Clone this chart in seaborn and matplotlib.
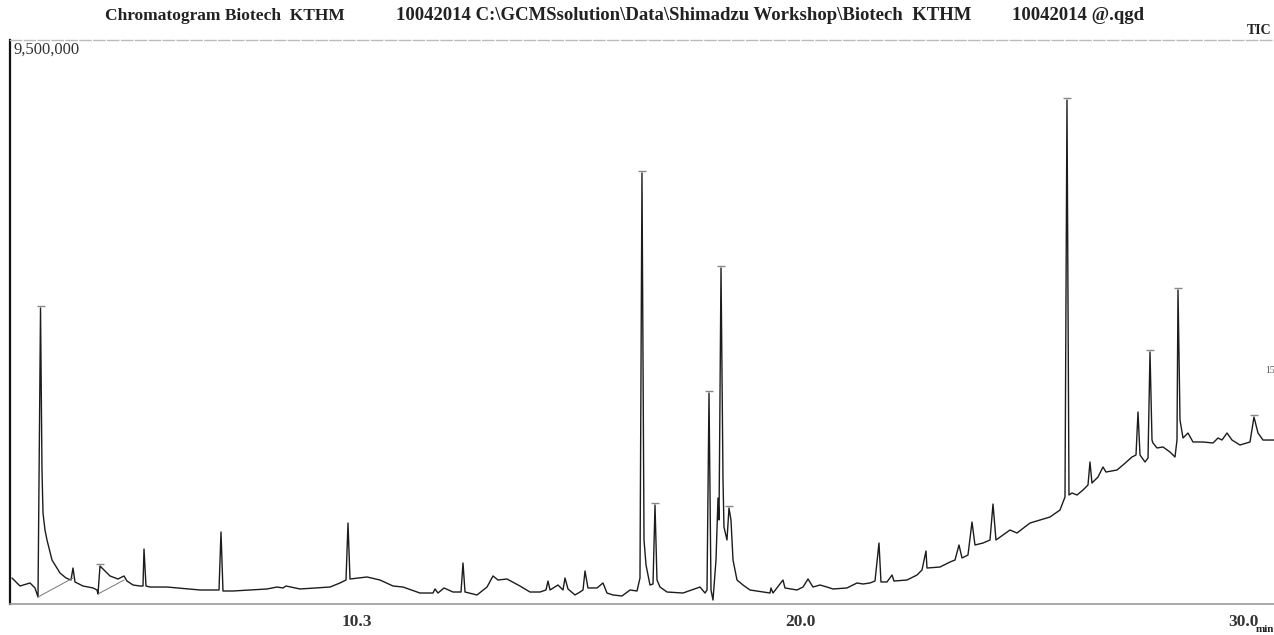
# ============================================================
# GC-MS TIC chromatogram - Biotech KTHM 10042014
# ============================================================

# ----------------------------
# 1. IMPORT LIBRARIES
# ----------------------------
import numpy as np
import pandas as pd
import seaborn as sns
import matplotlib
matplotlib.use("Agg")
import matplotlib.pyplot as plt
from matplotlib.ticker import MultipleLocator

# ----------------------------
# 2. DATA
# ----------------------------
# retention time (min)
ret_time = [
    2.212, 2.393, 2.619, 2.731, 2.799, 2.856, 2.889, 2.912, 2.957, 3.002,
    3.115, 3.296, 3.431, 3.544, 3.589, 3.634, 3.815, 4.041, 4.131, 4.153,
    4.199, 4.244, 4.334, 4.424, 4.605, 4.740, 4.808, 4.944, 5.102, 5.169,
    5.192, 5.237, 5.327, 5.711, 6.456, 6.885, 6.930, 6.975, 7.201, 7.968,
    8.194, 8.330, 8.397, 8.713, 9.391, 9.616, 9.752, 9.797, 9.842, 10.226,
    10.519, 10.813, 11.038, 11.422, 11.716, 11.761, 11.828, 11.964, 12.167, 12.348,
    12.393, 12.438, 12.709, 12.935, 13.070, 13.183, 13.386, 13.679, 13.905, 14.131,
    14.266, 14.312, 14.357, 14.537, 14.650, 14.695, 14.763, 14.921, 15.034, 15.102,
    15.147, 15.214, 15.418, 15.553, 15.643, 15.779, 15.982, 16.163, 16.321, 16.388,
    16.433, 16.479, 16.524, 16.614, 16.682, 16.727, 16.772, 16.840, 16.998, 17.359,
    17.743, 17.856, 17.901, 17.946, 17.991, 18.036, 18.104, 18.149, 18.172, 18.217,
    18.262, 18.284, 18.352, 18.397, 18.442, 18.488, 18.578, 18.713, 18.871, 19.323,
    19.345, 19.391, 19.616, 19.661, 19.932, 20.068, 20.181, 20.293, 20.451, 20.609,
    20.745, 21.061, 21.287, 21.422, 21.580, 21.693, 21.783, 21.828, 21.964, 22.077,
    22.122, 22.415, 22.641, 22.754, 22.844, 22.867, 23.160, 23.386, 23.499, 23.589,
    23.657, 23.792, 23.883, 23.950, 24.131, 24.289, 24.357, 24.424, 24.582, 24.740,
    24.898, 25.192, 25.418, 25.643, 25.869, 25.982, 26.027, 26.072, 26.140, 26.253,
    26.388, 26.501, 26.546, 26.591, 26.727, 26.840, 26.907, 27.156, 27.291, 27.494,
    27.585, 27.630, 27.675, 27.788, 27.856, 27.901, 27.946, 27.968, 28.059, 28.194,
    28.352, 28.465, 28.510, 28.533, 28.578, 28.646, 28.758, 28.871, 29.097, 29.323,
    29.436, 29.526, 29.639, 29.752, 29.932, 30.158, 30.248, 30.339, 30.451, 30.700,
]

# TIC intensity (x1000 counts)
tic_k = [
    438, 303, 354, 270, 118, 4986, 2257, 1533, 1246, 1078,
    741, 522, 438, 404, 606, 371, 303, 270, 236, 168,
    640, 606, 539, 472, 421, 472, 387, 320, 303, 303,
    926, 303, 286, 286, 236, 236, 1213, 219, 219, 253,
    286, 270, 303, 253, 286, 354, 404, 1364, 421, 455,
    404, 303, 286, 185, 185, 253, 185, 270, 202, 202,
    691, 202, 152, 286, 472, 404, 421, 303, 202, 202,
    236, 387, 236, 320, 236, 438, 253, 152, 202, 236,
    556, 270, 270, 354, 185, 152, 135, 236, 219, 438,
    7260, 1078, 657, 320, 337, 1668, 404, 286, 202, 185,
    286, 185, 236, 3554, 236, 67, 741, 1785, 1415, 5660,
    2089, 1297, 1078, 1617, 1415, 741, 404, 320, 236, 185,
    270, 185, 404, 270, 236, 286, 421, 286, 320, 286,
    253, 270, 354, 337, 354, 387, 1027, 371, 371, 488,
    387, 404, 488, 573, 893, 606, 623, 707, 741, 994,
    775, 825, 1381, 994, 1027, 1078, 1684, 1078, 1162, 1246,
    1196, 1364, 1415, 1465, 1583, 1802, 8489, 1836, 1870, 1836,
    1920, 2004, 2392, 2038, 2139, 2308, 2223, 2257, 2341, 2476,
    2510, 3234, 2510, 2392, 2459, 4245, 2762, 2712, 2628, 2645,
    2560, 2476, 2762, 5289, 3099, 2796, 2880, 2729, 2729, 2712,
    2796, 2762, 2880, 2762, 2678, 2729, 3150, 2880, 2762, 2762,
]

# integration baselines drawn by the software (start, end)
base_time = [[2.799, 3.589], [4.153, 4.740]]
base_tic_k = [[118, 438], [168, 404]]

# peaks carrying a label mark on the printout
peak_time = [2.856, 4.199, 16.433, 16.727, 17.946, 18.217, 18.397, 26.027, 27.901, 28.533, 30.248]
peak_tic_k = [4986, 640, 7260, 1668, 3554, 5660, 1617, 8489, 4245, 5289, 3150]

# peak number printed at the right edge
edge_label = "15"
edge_label_time = 30.62
edge_label_tic_k = 3940

x_ticks = [10, 20, 30]
x_tick_labels = ["10.3", "20.0", "30.0"]
y_max = 9500000

title_parts = ["Chromatogram Biotech  KTHM",
               "10042014 C:\\GCMSsolution\\Data\\Shimadzu Workshop\\Biotech  KTHM",
               "10042014 @.qgd"]

df = pd.DataFrame({"time": ret_time, "tic": np.array(tic_k) * 1000})

# ----------------------------
# 3. PLOT
# ----------------------------
sns.set_style("white")
plt.rcParams["font.family"] = ["Liberation Serif", "DejaVu Serif"]

fig = plt.figure(figsize=(12.74, 6.35), dpi=100)
ax = fig.add_axes([10 / 1274, 31 / 635, 1264 / 1274, 564 / 635])

sns.lineplot(data=df, x="time", y="tic", ax=ax, color="#1c1c1c",
             linewidth=1.0, sort=False, estimator=None)

for bt, bk in zip(base_time, base_tic_k):
    ax.plot(bt, np.array(bk) * 1000, color="#777777", linewidth=0.7)

ax.scatter(peak_time, np.array(peak_tic_k) * 1000 + 40000, marker="_",
           s=40, color="#888888", linewidths=1.0, zorder=3)

ax.text(edge_label_time, edge_label_tic_k * 1000, edge_label, ha="center",
        va="center", fontsize=7, color="#555555")

ax.set_xlim(2.167, 30.70)
ax.set_ylim(0, y_max)
ax.set_xlabel("")
ax.set_ylabel("")
ax.set_yticks([])
ax.set_xticks(x_ticks)
ax.set_xticklabels(x_tick_labels, fontsize=12.5, fontweight="bold", color="#333333")
ax.xaxis.set_minor_locator(MultipleLocator(1))
ax.tick_params(axis="x", which="major", direction="inout", length=6,
               width=1.0, color="#888888", pad=4)
ax.tick_params(axis="x", which="minor", direction="inout", length=3,
               width=0.8, color="#aaaaaa")

ax.spines["right"].set_visible(False)
ax.spines["left"].set_color("#111111")
ax.spines["left"].set_linewidth(1.6)
ax.spines["bottom"].set_color("#999999")
ax.spines["bottom"].set_linewidth(1.2)
ax.spines["top"].set_color("#bbbbbb")
ax.spines["top"].set_linewidth(1.0)
ax.spines["top"].set_linestyle((0, (8, 2)))

ax.text(0.003, 0.997, "9,500,000", transform=ax.transAxes, ha="left", va="top",
        fontsize=12, color="#333333")

# header line
fig.text(105 / 1274, 1 - 16 / 635, title_parts[0], ha="left", va="center",
         fontsize=12.5, fontweight="bold", color="#222222")
fig.text(396 / 1274, 1 - 16 / 635, title_parts[1], ha="left", va="center",
         fontsize=13.5, fontweight="bold", color="#222222")
fig.text(1012 / 1274, 1 - 16 / 635, title_parts[2], ha="left", va="center",
         fontsize=13.5, fontweight="bold", color="#222222")
fig.text(1247 / 1274, 1 - 31 / 635, "TIC", ha="left", va="center",
         fontsize=10, fontweight="bold", color="#222222")
fig.text(1256 / 1274, 1 - 629 / 635, "min", ha="left", va="center",
         fontsize=8, fontweight="bold", color="#222222")

plt.savefig("out.png", dpi=100)
